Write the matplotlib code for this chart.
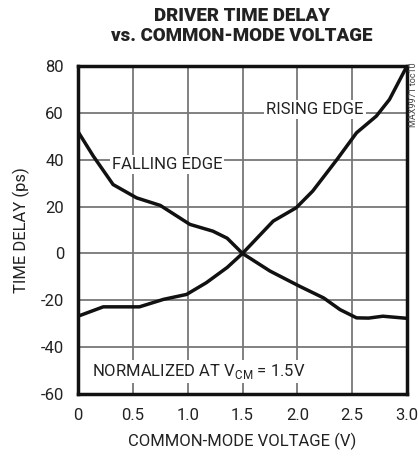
import matplotlib.pyplot as plt

plt.rcParams['font.family'] = ['Roboto', 'DejaVu Sans']
plt.rcParams['axes.unicode_minus'] = False

# falling edge curve
fall_v = [0, 0.14, 0.32, 0.535, 0.75, 1.02, 1.23, 1.36, 1.5, 1.75, 2.02, 2.24, 2.39, 2.54, 2.65, 2.78, 3.0]
fall_t = [52, 41.5, 29.4, 23.7, 20.5, 12.4, 9.5, 6.5, 0, -7.5, -14, -19, -24, -27.5, -27.6, -26.8, -27.7]

# rising edge curve
rise_v = [0, 0.23, 0.56, 0.78, 0.99, 1.17, 1.36, 1.5, 1.78, 1.99, 2.14, 2.36, 2.54, 2.72, 2.84, 3.0]
rise_t = [-26.8, -22.8, -22.8, -19.6, -17.5, -12.5, -6, 0, 13.8, 19.5, 26.6, 40, 51.5, 58.6, 65.7, 80]

xticks = [0, 0.5, 1.0, 1.5, 2.0, 2.5, 3.0]
xtick_labels = ['0', '0.5', '1.0', '1.5', '2.0', '2.5', '3.0']
yticks = [-60, -40, -20, 0, 20, 40, 60, 80]

fig = plt.figure(figsize=(4.18, 4.57), dpi=100)
ax = fig.add_axes([78 / 418, 1 - 394 / 457, 329 / 418, 328 / 457])

ax.set_xlim(0, 3)
ax.set_ylim(-60, 80)
ax.set_xticks(xticks)
ax.set_xticklabels(xtick_labels)
ax.set_yticks(yticks)
ax.grid(True, color='#777777', linewidth=1.3)
ax.tick_params(length=0, labelsize=12, pad=10, colors='#222222')
for s in ax.spines.values():
    s.set_linewidth(2.5)
    s.set_color('#111111')

ax.plot(fall_v, fall_t, color='#111111', linewidth=2.5, zorder=3)
ax.plot(rise_v, rise_t, color='#111111', linewidth=2.5, zorder=3)

box = dict(facecolor='white', edgecolor='none', pad=1.5)
ax.text(0.81, 38, 'FALLING EDGE', ha='center', va='center', fontsize=12, color='#222222', bbox=box, zorder=4)
ax.text(2.16, 61.5, 'RISING EDGE', ha='center', va='center', fontsize=12, color='#222222', bbox=box, zorder=4)
ax.text(0.13, -50.5, 'NORMALIZED AT V$_{\\mathregular{CM}}$ = 1.5V', ha='left', va='center', fontsize=12,
        color='#222222', bbox=box, zorder=4)

ax.set_xlabel('COMMON-MODE VOLTAGE (V)', fontsize=12, color='#222222', labelpad=7)
ax.set_ylabel('TIME DELAY (ps)', fontsize=12, color='#222222', labelpad=8)

fig.text(242 / 418, 1 - 7 / 457, 'DRIVER TIME DELAY\nvs. COMMON-MODE VOLTAGE', ha='center', va='top',
         fontsize=13.5, fontweight='black', color='#222222', linespacing=1.15)
fig.text(413 / 418, 1 - 62 / 457, 'MAX9971 toc10', rotation=90, ha='center', va='top', fontsize=6.5, color='#444444')

fig.savefig('out.png', dpi=100)
